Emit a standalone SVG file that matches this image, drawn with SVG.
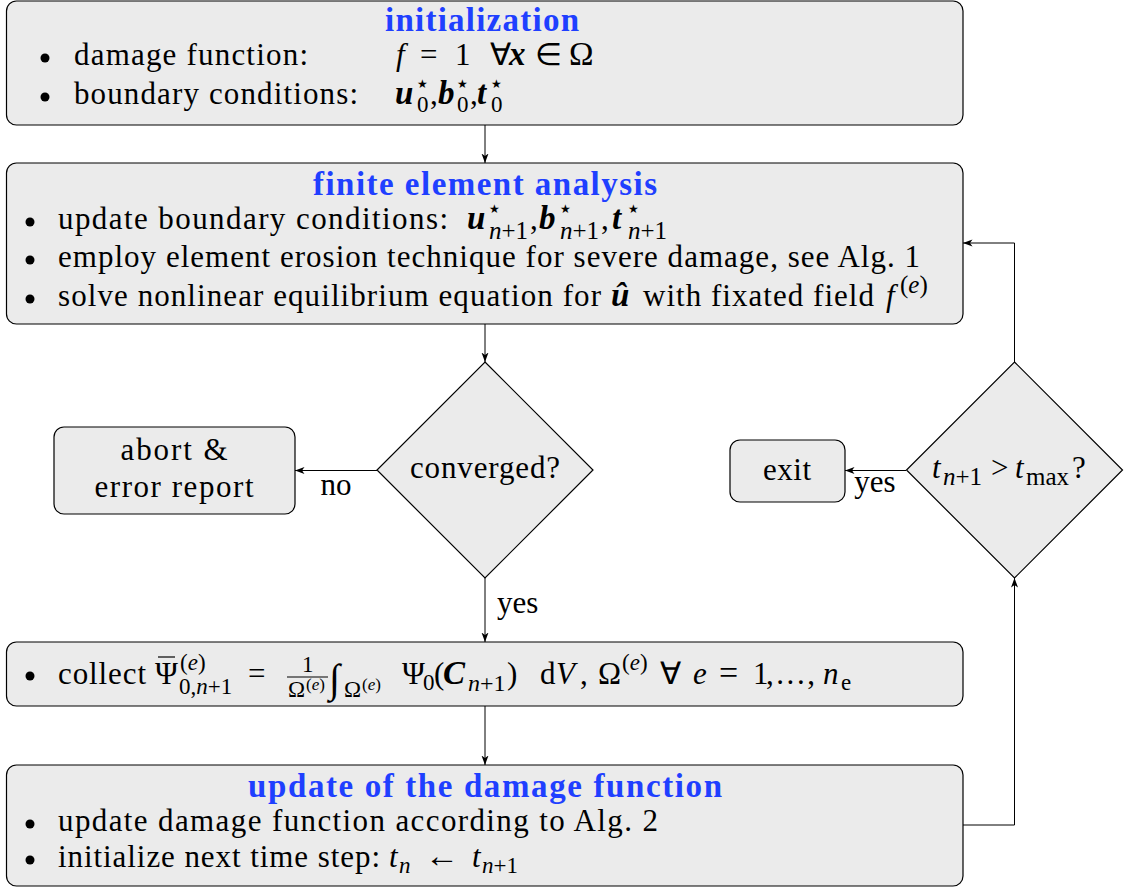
<svg xmlns="http://www.w3.org/2000/svg" width="1126" height="888" viewBox="0 0 1126 888" font-family="'Liberation Serif', 'Times New Roman', serif">
<defs>
<style>
text { font-family: 'Liberation Serif', 'Times New Roman', serif; font-size: 31px; fill: #000; }
.h { font-weight: bold; fill: #1f3fff; font-size: 33px; text-anchor: middle; }
.c { text-anchor: middle; }
.i { font-style: italic; }
.v { font-style: italic; font-weight: bold; font-size: 33px; }
.s { font-size: 23px; }
.sb { font-size: 25px; }
.ss { font-size: 17px; }
.st { font-family: 'DejaVu Sans', sans-serif; font-size: 12px; }
.box { fill: #ebebeb; stroke: #000; stroke-width: 1.2; }
.conn { fill: none; stroke: #000; stroke-width: 1; }
.rule { stroke: #000; stroke-width: 1.2; }
</style>
<marker id="arr" markerWidth="10" markerHeight="8" refX="9.5" refY="4" orient="auto" markerUnits="userSpaceOnUse">
<path d="M0,0.5 L9.5,4 L0,7.5 L2.5,4 z" fill="#000"/>
</marker>
</defs>

<g id="connectors">
<path class="conn" d="M485,125 V163" marker-end="url(#arr)"/>
<path class="conn" d="M485,324 V362" marker-end="url(#arr)"/>
<path class="conn" d="M377,470.5 H295" marker-end="url(#arr)"/>
<path class="conn" d="M485,578 V642" marker-end="url(#arr)"/>
<path class="conn" d="M485,706 V765" marker-end="url(#arr)"/>
<path class="conn" d="M963,825 H1014.5 V578" marker-end="url(#arr)"/>
<path class="conn" d="M1014.5,362 V243 H963" marker-end="url(#arr)"/>
<path class="conn" d="M906,470.5 H845" marker-end="url(#arr)"/>
<text x="336" y="495" class="c">no</text>
<text x="497" y="613">yes</text>
<text x="875" y="492" class="c">yes</text>
</g>

<g id="n-init">
<rect class="box" x="6.5" y="1" width="956.5" height="124" rx="10"/>
<text class="h" x="482" y="31" textLength="194">initialization</text>
<circle cx="45" cy="58" r="4.5"/>
<text x="74" y="65" textLength="234">damage function:</text>
<text class="i" x="396" y="65">f</text>
<text x="420" y="65">=</text>
<text x="455" y="65">1</text>
<text x="490" y="65">∀</text>
<text class="v" x="509" y="65">x</text>
<text x="535" y="65">∈</text>
<text x="569" y="65" style="font-size:33px">Ω</text>
<circle cx="45" cy="97" r="4.5"/>
<text x="74" y="104" textLength="284">boundary conditions:</text>
<text class="v" x="395" y="104">u</text>
<text class="st" x="417" y="88">★</text>
<text class="s" x="417" y="112">0</text>
<text x="430" y="104">,</text>
<text class="v" x="438" y="104">b</text>
<text class="st" x="457" y="88">★</text>
<text class="s" x="457" y="112">0</text>
<text x="470" y="104">,</text>
<text class="v" x="477" y="104">t</text>
<text class="st" x="491" y="88">★</text>
<text class="s" x="491" y="112">0</text>
</g>

<g id="n-fea">
<rect class="box" x="6.5" y="163" width="956.5" height="161" rx="10"/>
<text class="h" x="485" y="195" textLength="344">finite element analysis</text>
<circle cx="30" cy="222" r="4.5"/>
<text x="58" y="229" textLength="390">update boundary conditions:</text>
<text class="v" x="467" y="229">u</text>
<text class="st" x="489" y="213">★</text>
<text class="sb" x="489" y="239"><tspan class="i">n</tspan>+1</text>
<text x="530" y="229">,</text>
<text class="v" x="539" y="229">b</text>
<text class="st" x="560" y="213">★</text>
<text class="sb" x="560" y="239"><tspan class="i">n</tspan>+1</text>
<text x="601" y="229">,</text>
<text class="v" x="612" y="229">t</text>
<text class="st" x="628" y="213">★</text>
<text class="sb" x="628" y="239"><tspan class="i">n</tspan>+1</text>
<circle cx="30" cy="260" r="4.5"/>
<text x="58" y="267" textLength="862">employ element erosion technique for severe damage, see Alg. 1</text>
<circle cx="30" cy="299" r="4.5"/>
<text x="58" y="306" textLength="543">solve nonlinear equilibrium equation for</text>
<text class="v" x="611" y="306">û</text>
<text x="643" y="306" textLength="231">with fixated field</text>
<text class="i" x="886" y="306">f</text>
<text x="900" y="293" style="font-size:25px">(<tspan class="i">e</tspan>)</text>
</g>

<g id="n-conv">
<polygon class="box" points="485,362 593,470 485,578 377,470"/>
<text x="485" y="478" class="c" textLength="150">converged?</text>
</g>

<g id="n-abort">
<rect class="box" x="54" y="427" width="241" height="87" rx="10"/>
<text x="174" y="460" class="c" textLength="107">abort &amp;</text>
<text x="174" y="497" class="c" textLength="159">error report</text>
</g>

<g id="n-tmax">
<polygon class="box" points="1014.5,362 1122.5,470 1014.5,578 906.5,470"/>
<text class="i" x="932" y="478">t</text>
<text class="sb" x="943" y="485"><tspan class="i">n</tspan>+1</text>
<text x="991" y="478">&gt;</text>
<text class="i" x="1015" y="478">t</text>
<text x="1026" y="485" style="font-size:25px">max</text>
<text x="1072" y="478">?</text>
</g>

<g id="n-exit">
<rect class="box" x="730" y="440" width="115" height="62" rx="10"/>
<text x="787" y="480" class="c" textLength="48">exit</text>
</g>

<g id="n-collect">
<rect class="box" x="6.5" y="642" width="956.5" height="64" rx="10"/>
<circle cx="30" cy="676" r="4.5"/>
<text x="58" y="684" textLength="88">collect</text>
<text x="155" y="684">Ψ</text>
<line class="rule" x1="158" y1="657" x2="175" y2="657"/>
<text class="s" x="180" y="670">(<tspan class="i">e</tspan>)</text>
<text class="s" x="179" y="694">0,<tspan class="i">n</tspan>+1</text>
<text x="248" y="684">=</text>
<text class="s" x="302" y="672">1</text>
<line class="rule" x1="287" y1="677" x2="328" y2="677"/>
<text class="s" x="288" y="697">Ω</text>
<text class="ss" x="306" y="690">(<tspan class="i">e</tspan>)</text>
<text class="i" x="329" y="692" style="font-size:40px">∫</text>
<text class="s" x="344" y="697">Ω</text>
<text class="ss" x="362" y="690">(<tspan class="i">e</tspan>)</text>
<text x="402" y="684">Ψ</text>
<text class="s" x="423" y="690">0</text>
<text x="434" y="684">(</text>
<text class="v" x="443" y="684">C</text>
<text x="468" y="691" style="font-size:24px"><tspan class="i">n</tspan>+1</text>
<text x="507" y="684">)</text>
<text x="540" y="684">d</text>
<text class="i" x="556" y="684">V</text>
<text x="580" y="684">,</text>
<text x="598" y="684">Ω</text>
<text class="s" x="622" y="670">(<tspan class="i">e</tspan>)</text>
<text x="660" y="684">∀</text>
<text class="i" x="693" y="684">e</text>
<text x="719" y="684" style="font-size:34px">=</text>
<text x="753" y="684" textLength="62">1, . . . ,</text>
<text class="i" x="823" y="684">n</text>
<text class="s" x="841" y="690">e</text>
</g>

<g id="n-update">
<rect class="box" x="6.5" y="765" width="956.5" height="121" rx="10"/>
<text class="h" x="485" y="797" textLength="474">update of the damage function</text>
<circle cx="30" cy="824" r="4.5"/>
<text x="58" y="831" textLength="600">update damage function according to Alg. 2</text>
<circle cx="30" cy="860" r="4.5"/>
<text x="58" y="867" textLength="322">initialize next time step:</text>
<text class="i" x="389" y="867">t</text>
<text class="s i" x="399" y="873">n</text>
<text x="425" y="867" style="font-size:34px">←</text>
<text class="i" x="472" y="867">t</text>
<text class="s" x="482" y="873"><tspan class="i">n</tspan>+1</text>
</g>
</svg>
